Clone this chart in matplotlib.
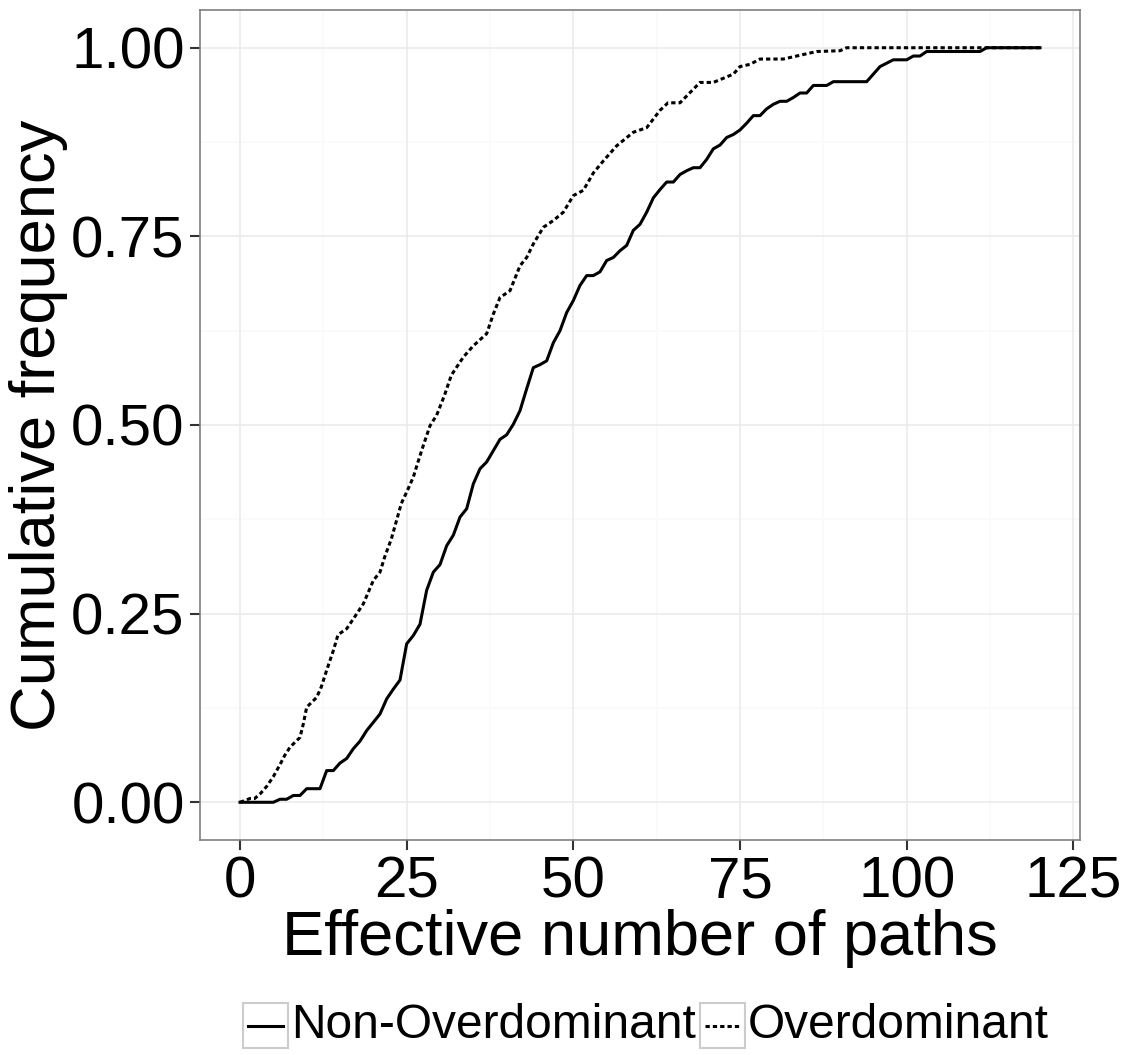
import matplotlib
matplotlib.use("Agg")
import matplotlib.pyplot as plt
from matplotlib.lines import Line2D
from matplotlib.patches import Rectangle

plt.rcParams['font.family'] = ['Liberation Sans', 'DejaVu Sans']

# Non-Overdominant (solid) cumulative frequency
non_x = [0, 5, 6, 7, 8, 9, 10, 12, 13, 14,
         15, 16, 17, 18, 19, 20, 21, 22, 23, 24, 25, 26, 27, 28, 29, 30,
         31, 32, 33, 34, 35, 36, 37, 38, 39, 40, 41, 42, 43, 44, 45, 46,
         47, 48, 49, 50, 51, 52, 53, 54, 55, 56, 57, 58, 59, 60, 61, 62,
         63, 64, 65, 66, 67, 68, 69, 70, 71, 72, 73, 74, 75, 76, 77, 78,
         79, 80, 81, 82, 83, 84, 85, 86,
         88, 89, 94, 95, 96, 98, 100, 101, 102, 103, 111, 112, 120]
non_y = [0, 0, .004, .004, .009, .009, .018, .018, .042, .042,
         .052, .058, .071, .081, .095, .106, .117, .137, .150, .162, .210, .221,
         .236, .281, .305, .315, .340, .354, .378, .389, .422, .442, .451, .466,
         .481, .487, .501, .519, .548, .576, .580, .585, .609, .625, .649, .665,
         .685, .698, .698, .703, .718, .722, .731, .738, .758, .766, .782, .801,
         .812, .822, .822, .832, .837, .841, .841, .852, .866, .871, .881, .885,
         .891, .900, .910, .910, .919, .925, .929, .929, .934, .940, .940, .950,
         .950, .955, .955, .965, .975, .984, .984, .989, .989, .995, .995, 1.0, 1.0]

# Overdominant (dotted) cumulative frequency
over_x = [0, 1.5, 2.2, 3, 4, 5, 6, 6.7, 7.5, 9, 9.5, 10, 11.5, 12.2, 13, 14,
          14.7, 16, 17, 18.5, 20, 21, 21.7, 22.7, 23.5, 24.2, 25.2, 26, 26.7,
          27.5, 28.5, 29.5, 30.7, 31.7, 33.5, 35, 37, 38, 39, 40.5, 42, 43, 44,
          45.5, 47, 48.5, 50, 51.5, 53, 54.5, 56.5, 59, 61, 63, 64.2, 66, 67,
          69, 71, 74, 75, 76.5, 78, 81.5, 83.5, 85, 86.5, 90, 91, 120]
over_y = [0, .005, .005, .011, .021, .034, .050, .062, .073, .086, .104, .126,
          .139, .153, .175, .201, .222, .230, .243, .263, .294, .305, .325, .349,
          .374, .396, .415, .431, .451, .473, .499, .513, .540, .566, .590, .605,
          .621, .647, .669, .678, .711, .722, .740, .762, .771, .782, .804, .811,
          .834, .850, .870, .888, .894, .917, .927, .927, .936, .954, .954, .965,
          .975, .978, .985, .985, .989, .992, .995, .996, 1.0, 1.0]

x_ticks = [0, 25, 50, 75, 100, 125]
y_ticks = [0, 0.25, 0.5, 0.75, 1.0]
y_labels = ["0.00", "0.25", "0.50", "0.75", "1.00"]

W, H = 1128, 1055
fig = plt.figure(figsize=(W / 100, H / 100), dpi=100)
ax = fig.add_axes([200 / W, 1 - 840 / H, 880 / W, 830 / H])

lw = 2.2
dot_style = (0, (1.4, 1.0))
ax.plot(non_x, non_y, color='black', lw=lw, solid_joinstyle='round')
ax.plot(over_x, over_y, color='black', lw=lw, linestyle=dot_style, dash_capstyle='butt')

ax.set_xlim(-6, 126)
ax.set_ylim(-0.05, 1.05)

# grid like theme_bw
for v in [12.5, 37.5, 62.5, 87.5, 112.5]:
    ax.axvline(v, color='#fafafa', lw=1.2, zorder=0)
for v in [0.125, 0.375, 0.625, 0.875]:
    ax.axhline(v, color='#fafafa', lw=1.2, zorder=0)
for v in x_ticks:
    ax.axvline(v, color='#ebebeb', lw=1.2, zorder=0)
for v in y_ticks:
    ax.axhline(v, color='#ebebeb', lw=1.2, zorder=0)

ax.set_xticks(x_ticks)
ax.set_yticks(y_ticks)
ax.set_yticklabels(y_labels)
ax.tick_params(labelsize=42, length=7, width=1.5, color='#333333', labelcolor='black', pad=4)
for s in ax.spines.values():
    s.set_color('#7f7f7f')
    s.set_linewidth(1.2)

ax.set_xlabel("Effective number of paths", fontsize=45.5, labelpad=0)
ax.set_ylabel("Cumulative frequency", fontsize=45.5, labelpad=2)

# legend at the bottom, ggplot style with boxed keys
ky0 = 1 - 1048 / H
kh = 45 / H
kw = 45 / W
for kx, ls, label in [(243, '-', "Non-Overdominant"), (700, dot_style, "Overdominant")]:
    x0 = kx / W
    fig.add_artist(Rectangle((x0, ky0), kw, kh, transform=fig.transFigure,
                             facecolor='white', edgecolor='#cccccc', lw=1.5))
    fig.add_artist(Line2D([x0 + 5 / W, x0 + kw - 5 / W], [ky0 + kh / 2] * 2,
                          transform=fig.transFigure, color='black', lw=lw,
                          linestyle=ls, dash_capstyle='butt'))
    fig.text(x0 + kw + 3 / W, ky0 + kh / 2, label, fontsize=34.5,
             ha='left', va='center')

fig.savefig("out.png", dpi=100)
